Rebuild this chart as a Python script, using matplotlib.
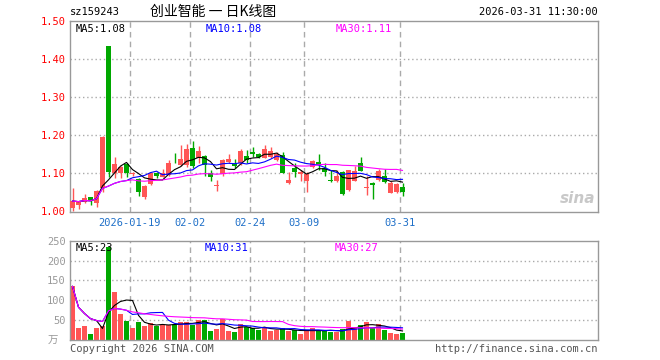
# sz159243 daily K-line chart (sina style) - candles + volume with MA5/MA10/MA30
import matplotlib
matplotlib.use('Agg')
import matplotlib.pyplot as plt
import numpy as np

# daily prices, 2026-01-05 .. 2026-03-31 (56 sessions)
opens = [1.010, 1.016, 1.025, 1.037, 1.021, 1.062, 1.435, 1.100, 1.100, 1.124,
         1.097, 1.084, 1.038, 1.071, 1.100, 1.091, 1.096, 1.131, 1.122, 1.122,
         1.166, 1.139, 1.146, 1.100, 1.067, 1.098, 1.129, 1.124, 1.126, 1.146,
         1.157, 1.150, 1.139, 1.144, 1.136, 1.148, 1.075, 1.113, 1.097, 1.081,
         1.117, 1.130, 1.115, 1.082, 1.081, 1.103, 1.056, 1.081, 1.126, 1.061,
         1.075, 1.082, 1.093, 1.049, 1.052, 1.063]
closes = [1.027, 1.024, 1.034, 1.026, 1.054, 1.196, 1.104, 1.124, 1.117, 1.102,
          1.102, 1.052, 1.067, 1.100, 1.092, 1.101, 1.126, 1.129, 1.138, 1.164,
          1.120, 1.159, 1.122, 1.089, 1.069, 1.135, 1.138, 1.119, 1.159, 1.135,
          1.150, 1.144, 1.163, 1.158, 1.151, 1.102, 1.082, 1.104, 1.104, 1.098,
          1.132, 1.122, 1.104, 1.080, 1.094, 1.046, 1.109, 1.107, 1.107, 1.065,
          1.069, 1.107, 1.078, 1.075, 1.072, 1.052]
highs = [1.061, 1.025, 1.046, 1.038, 1.056, 1.197, 1.435, 1.144, 1.118, 1.126,
         1.104, 1.088, 1.068, 1.104, 1.104, 1.111, 1.135, 1.153, 1.174, 1.176,
         1.185, 1.172, 1.148, 1.109, 1.082, 1.138, 1.151, 1.138, 1.163, 1.161,
         1.170, 1.153, 1.174, 1.170, 1.156, 1.157, 1.104, 1.126, 1.110, 1.104,
         1.135, 1.150, 1.126, 1.108, 1.109, 1.105, 1.110, 1.118, 1.144, 1.093,
         1.077, 1.111, 1.111, 1.079, 1.074, 1.074]
lows = [1.000, 1.006, 1.021, 1.017, 1.012, 1.052, 1.091, 1.087, 1.088, 1.091,
        1.093, 1.040, 1.032, 1.069, 1.088, 1.089, 1.092, 1.127, 1.120, 1.117,
        1.113, 1.126, 1.093, 1.080, 1.054, 1.093, 1.126, 1.114, 1.123, 1.126,
        1.144, 1.140, 1.139, 1.140, 1.133, 1.100, 1.073, 1.091, 1.080, 1.050,
        1.115, 1.109, 1.094, 1.078, 1.078, 1.044, 1.053, 1.079, 1.105, 1.043,
        1.032, 1.080, 1.075, 1.047, 1.049, 1.041]
# volume, 万
volumes = [135, 30, 35, 15, 30, 35, 233, 122, 65, 48,
           30, 45, 35, 42, 36, 38, 38, 41, 46, 45,
           39, 50, 51, 23, 27, 52, 23, 20, 40, 33,
           31, 25, 33, 22, 26, 31, 23, 24, 16, 25,
           30, 24, 22, 21, 21, 27, 48, 33, 38, 45,
           29, 40, 24, 18, 14, 18]

date_idx = [10, 20, 30, 39, 55]
date_labels = ['2026-01-19', '02-02', '02-24', '03-09', '03-31']
price_ticks = [1.00, 1.10, 1.20, 1.30, 1.40, 1.50]
vol_ticks = [50, 100, 150, 200, 250]

RED = '#ff5555'
GREEN = '#00a800'
GRID = '#aaaaaa'
FRAME = '#999999'
MONO = 'DejaVu Sans Mono'


def moving_avg(vals, n):
    # expanding mean until the window is full
    vals = np.asarray(vals, dtype=float)
    out = np.empty_like(vals)
    for k in range(len(vals)):
        out[k] = vals[max(0, k - n + 1):k + 1].mean()
    return out


o = np.array(opens)
c = np.array(closes)
h = np.array(highs)
l = np.array(lows)
v = np.array(volumes, dtype=float)
x = np.arange(len(c))
up = c >= o
colors = np.where(up, RED, GREEN)

fig = plt.figure(figsize=(6.6, 3.6), dpi=100)
ax = fig.add_axes([70/660, 1-211.5/360, 528/660, 190.8/360])
axv = fig.add_axes([70/660, 1-340/360, 528/660, 99.3/360])

xlim = ((70-72.5)/6, (598-72.5)/6)
vline_x = [i - 0.42 for i in date_idx]

for a in (ax, axv):
    a.set_xlim(*xlim)
    for s in a.spines.values():
        s.set_color(FRAME)
        s.set_linewidth(1.0)
    for xv in vline_x:
        a.axvline(xv, color=GRID, lw=1.0, ls=(0, (4, 3)), zorder=0)

# ---- price panel ----
ax.set_ylim(0.9995, 1.5015)
for yv in price_ticks[1:-1]:
    ax.axhline(yv, color=GRID, lw=1.0, ls=(0, (1, 2)), zorder=0)
ax.vlines(x, l, h, colors=colors, lw=1.0, zorder=2)
body = np.maximum(np.abs(c - o), 0.0015)
ax.bar(x, body, bottom=np.minimum(o, c), width=0.82, color=colors, zorder=3)

ma5 = moving_avg(c, 5)
ma10 = moving_avg(c, 10)
ma30 = moving_avg(c, 30)
ax.plot(x, ma5, color='black', lw=0.8, zorder=4)
ax.plot(x, ma10, color='blue', lw=0.8, zorder=4)
ax.plot(x, ma30, color='#ff00ff', lw=0.8, zorder=4)

ax.set_yticks(price_ticks)
ax.set_yticklabels(['%.2f' % t for t in price_ticks], color='red',
                   fontsize=7.5, family=MONO)
ax.tick_params(axis='y', length=0, pad=3)
ax.set_xticks(vline_x)
ax.set_xticklabels(date_labels, color='#1e6fc8', fontsize=7.5, family=MONO)
ax.tick_params(axis='x', length=0, pad=5)

ax.text(0.01, 0.985, 'MA5:%.2f' % ma5[-1], transform=ax.transAxes,
        fontsize=7.5, family=MONO, color='black', va='top')
ax.text(136/528, 0.985, 'MA10:%.2f' % ma10[-1], transform=ax.transAxes,
        fontsize=7.5, family=MONO, color='blue', va='top')
ax.text(266/528, 0.985, 'MA30:%.2f' % ma30[-1], transform=ax.transAxes,
        fontsize=7.5, family=MONO, color='#ff00ff', va='top')

# sina watermark
ax.text(0.995, 0.03, 'sina', transform=ax.transAxes, fontsize=11,
        fontweight='bold', style='italic', color='#bbbbbb', ha='right',
        va='bottom', alpha=0.8)

# ---- volume panel ----
axv.set_ylim(0, 250)
for yv in vol_ticks[:-1]:
    axv.axhline(yv, color=GRID, lw=1.0, ls=(0, (1, 2)), zorder=0)
axv.bar(x, v, width=0.82, color=colors, zorder=2)
vma5 = moving_avg(v, 5)
vma10 = moving_avg(v, 10)
vma30 = moving_avg(v, 30)
axv.plot(x, vma5, color='black', lw=0.8, zorder=3)
axv.plot(x, vma10, color='blue', lw=0.8, zorder=3)
axv.plot(x, vma30, color='#ff00ff', lw=0.8, zorder=3)
axv.set_yticks(vol_ticks)
axv.set_yticklabels([str(t) for t in vol_ticks], color='#999999',
                    fontsize=7.5, family=MONO)
axv.tick_params(axis='y', length=0, pad=3)
axv.set_xticks([])

axv.text(0.01, 0.975, 'MA5:%d' % round(vma5[-1]), transform=axv.transAxes,
         fontsize=7.5, family=MONO, color='black', va='top')
axv.text(135/528, 0.975, 'MA10:%d' % round(vma10[-1]), transform=axv.transAxes,
         fontsize=7.5, family=MONO, color='blue', va='top')
axv.text(265/528, 0.975, 'MA30:%d' % round(vma30[-1]), transform=axv.transAxes,
         fontsize=7.5, family=MONO, color='#ff00ff', va='top')

# ---- header / footer text ----
fig.text(70/660, 1-12/360, 'sz159243', fontsize=7.5, family=MONO,
         va='center', ha='left')
fig.text(150/660, 1-12/360, '创业智能 一 日K线图', fontsize=10,
         family=['Noto Sans CJK SC', 'DejaVu Sans'], va='center', ha='left')
fig.text(598/660, 1-12/360, '2026-03-31 11:30:00', fontsize=7.5, family=MONO,
         va='center', ha='right')
fig.text(48/660, 1-341/360, '万', fontsize=7.5,
         family=['Noto Sans CJK SC', 'DejaVu Sans'], color='#999999',
         va='center', ha='left')
fig.text(70/660, 1-349/360, 'Copyright 2026 SINA.COM', fontsize=7.5,
         family=MONO, color='#555555', va='center', ha='left')
fig.text(598/660, 1-349/360, 'http://finance.sina.com.cn', fontsize=7.5,
         family=MONO, color='#555555', va='center', ha='right')

fig.savefig('out.png', dpi=100)
